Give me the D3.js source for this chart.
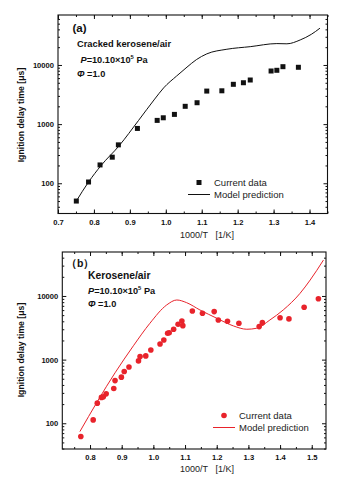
<!DOCTYPE html>
<html>
<head>
<meta charset="utf-8">
<script src="https://cdn.jsdelivr.net/npm/d3@7"></script>
<style>
  body { margin: 0; background: #fff; }
  svg { font-family: Arial, "Liberation Sans", sans-serif; }
  .tick text { font-weight: bold; font-size: 7.6px; fill: #111; }
  .tick line { stroke: #111; }
</style>
</head>
<body>
<div id="chart"></div>
<script>
// panel (a) - cracked kerosene/air
const aDataX = [0.751, 0.785, 0.817, 0.851, 0.868, 0.921, 0.976, 0.993, 1.024, 1.054, 1.087,
  1.114, 1.156, 1.188, 1.216, 1.235, 1.293, 1.309, 1.326, 1.369];
const aDataY = [50, 105, 204, 276, 446, 845, 1156, 1280, 1460, 2000, 2300,
  3620, 3660, 4710, 5010, 5570, 7910, 8130, 9360, 9140];
const aModelX = [0.751, 0.785, 0.82, 0.87, 0.924, 0.969, 0.994, 1.03, 1.059, 1.085, 1.114,
  1.17, 1.235, 1.309, 1.337, 1.374, 1.405, 1.429];
const aModelY = [50, 105, 200, 430, 1150, 2650, 4100, 6500, 9200, 12300, 15400,
  18450, 20400, 23000, 22800, 26500, 33000, 41900];

// panel (b) - kerosene/air
const bDataX = [0.771, 0.81, 0.823, 0.836, 0.842, 0.851, 0.875, 0.879, 0.899, 0.908, 0.923,
  0.953, 0.958, 0.976, 0.992, 1.021, 1.033, 1.045, 1.05, 1.064, 1.078, 1.09, 1.093,
  1.123, 1.155, 1.192, 1.205, 1.234, 1.27, 1.334, 1.344, 1.40, 1.428, 1.476, 1.521];
const bDataY = [62, 113, 207, 255, 260, 290, 351, 468, 530, 649, 767,
  955, 1115, 1143, 1420, 1763, 2036, 2594, 2650, 3000, 3594, 4050, 3420,
  5820, 5350, 5680, 4200, 4010, 3720, 3300, 3810, 4560, 4360, 6650, 9070];
const bModelX = [0.768, 0.879, 0.937, 0.989, 1.042, 1.074, 1.105, 1.147, 1.2, 1.253,
  1.295, 1.326, 1.368, 1.41, 1.463, 1.495, 1.537];
const bModelY = [74, 620, 1650, 3720, 7220, 8650, 7850, 6030, 4470, 3380,
  3000, 3110, 4200, 6030, 11000, 17800, 36700];

const xTicksA = [0.7, 0.8, 0.9, 1.0, 1.1, 1.2, 1.3, 1.4];
const xTicksB = [0.8, 0.9, 1.0, 1.1, 1.2, 1.3, 1.4, 1.5];
const yTicks = [100, 1000, 10000];

const W = 347, H = 482;
const svg = d3.select("#chart").append("svg").attr("width", W).attr("height", H);

function minorLog(domain) {
  const out = [];
  for (let e = 0; e < 6; e++) {
    for (let k = 2; k <= 9; k++) {
      const v = k * Math.pow(10, e);
      if (v > domain[0] && v < domain[1]) out.push(v);
    }
  }
  return out;
}

function drawPanel(cfg) {
  const x = d3.scaleLinear().domain(cfg.xDomain).range([cfg.left, cfg.right]);
  const y = d3.scaleLog().domain(cfg.yDomain).range([cfg.bottom, cfg.top]);
  const g = svg.append("g");

  const xMinor = d3.range(Math.ceil(cfg.xDomain[0] * 20), Math.floor(cfg.xDomain[1] * 20) + 1)
    .map(i => i / 20);

  // bottom axis, ticks point inward
  g.append("g").attr("transform", `translate(0,${cfg.bottom})`)
    .call(d3.axisBottom(x).tickValues(xMinor).tickSize(-2).tickFormat(""));
  g.append("g").attr("transform", `translate(0,${cfg.bottom})`)
    .call(d3.axisBottom(x).tickValues(cfg.xTicks).tickSize(-4).tickPadding(6)
      .tickFormat(d3.format(".1f")));
  // top axis
  g.append("g").attr("transform", `translate(0,${cfg.top})`)
    .call(d3.axisTop(x).tickValues(xMinor).tickSize(-2).tickFormat(""));
  g.append("g").attr("transform", `translate(0,${cfg.top})`)
    .call(d3.axisTop(x).tickValues(cfg.xTicks).tickSize(-4).tickFormat(""));
  // left axis
  g.append("g").attr("transform", `translate(${cfg.left},0)`)
    .call(d3.axisLeft(y).tickValues(minorLog(cfg.yDomain)).tickSize(-2).tickFormat(""));
  g.append("g").attr("transform", `translate(${cfg.left},0)`)
    .call(d3.axisLeft(y).tickValues(yTicks).tickSize(-4).tickPadding(4).tickFormat(d3.format("d")));
  // right axis
  g.append("g").attr("transform", `translate(${cfg.right},0)`)
    .call(d3.axisRight(y).tickValues(minorLog(cfg.yDomain)).tickSize(-2).tickFormat(""));
  g.append("g").attr("transform", `translate(${cfg.right},0)`)
    .call(d3.axisRight(y).tickValues(yTicks).tickSize(-4).tickFormat(""));

  g.selectAll(".domain").remove();
  g.append("rect")
    .attr("x", cfg.left).attr("y", cfg.top)
    .attr("width", cfg.right - cfg.left).attr("height", cfg.bottom - cfg.top)
    .attr("fill", "none").attr("stroke", "#111").attr("stroke-width", 1.1);

  // model line
  const line = d3.line().x(d => x(d[0])).y(d => y(d[1])).curve(d3.curveMonotoneX);
  g.append("path")
    .datum(cfg.modelX.map((v, i) => [v, cfg.modelY[i]]))
    .attr("d", line)
    .attr("fill", "none").attr("stroke", cfg.color).attr("stroke-width", 1);

  // data markers
  const pts = cfg.dataX.map((v, i) => [v, cfg.dataY[i]]);
  if (cfg.marker === "square") {
    g.selectAll(".pt").data(pts).join("path")
      .attr("transform", d => `translate(${x(d[0])},${y(d[1])})`)
      .attr("d", d3.symbol(d3.symbolSquare, 25))
      .attr("fill", cfg.color);
  } else {
    g.selectAll(".pt").data(pts).join("circle")
      .attr("cx", d => x(d[0])).attr("cy", d => y(d[1])).attr("r", 2.8)
      .attr("fill", cfg.color);
  }

  // axis titles
  g.append("text")
    .attr("transform", `translate(${cfg.yLabelX},${cfg.yLabelY}) rotate(-90)`)
    .attr("text-anchor", "middle").attr("font-weight", "bold").attr("font-size", 8.7)
    .attr("fill", "#111")
    .text("Ignition delay time [μs]");
  g.append("text")
    .attr("x", cfg.xLabelX).attr("y", cfg.xLabelY)
    .attr("text-anchor", "middle").attr("font-size", 9).attr("fill", "#222")
    .attr("xml:space", "preserve")
    .text("1000/T   [1/K]");

  // annotations
  const ann = g.append("g").attr("font-weight", "bold").attr("fill", "#111");
  ann.append("text").attr("x", cfg.tagX).attr("y", cfg.tagY).attr("font-size", cfg.tagSize).text(cfg.tag);
  ann.append("text").attr("x", cfg.annX).attr("y", cfg.annY[0]).attr("font-size", cfg.fuelSize).text(cfg.fuel);
  const p = ann.append("text").attr("x", cfg.annX + cfg.pDx).attr("y", cfg.annY[1]).attr("font-size", 9.2);
  p.append("tspan").attr("font-style", "italic").text("P");
  p.append("tspan").text("=10.10×10");
  p.append("tspan").attr("font-size", 5.8).attr("dy", -3.6).text("5");
  p.append("tspan").attr("dy", 3.6).text(" Pa");
  const f = ann.append("text").attr("x", cfg.annX + cfg.phiDx).attr("y", cfg.annY[2]).attr("font-size", 9.2);
  f.append("tspan").attr("font-style", "italic").text("Φ");
  f.append("tspan").text(" =1.0");

  // legend
  const lg = g.append("g").attr("font-size", 9.5).attr("fill", "#222");
  if (cfg.marker === "square") {
    lg.append("path").attr("transform", `translate(${cfg.legX + 11},${cfg.legY - 3})`)
      .attr("d", d3.symbol(d3.symbolSquare, 25)).attr("fill", cfg.color);
  } else {
    lg.append("circle").attr("cx", cfg.legX + 11).attr("cy", cfg.legY - 3).attr("r", 2.8)
      .attr("fill", cfg.color);
  }
  lg.append("line").attr("x1", cfg.legX).attr("x2", cfg.legX + 22)
    .attr("y1", cfg.legY + 9).attr("y2", cfg.legY + 9)
    .attr("stroke", cfg.color).attr("stroke-width", 1);
  lg.append("text").attr("x", cfg.legX + 26).attr("y", cfg.legY).text("Current data");
  lg.append("text").attr("x", cfg.legX + 26).attr("y", cfg.legY + 12).text("Model prediction");
}

drawPanel({
  left: 58, right: 327.5, top: 15, bottom: 213.5,
  xDomain: [0.7, 1.45], yDomain: [30.8, 70000], xTicks: xTicksA,
  dataX: aDataX, dataY: aDataY, modelX: aModelX, modelY: aModelY,
  color: "#111", marker: "square",
  yLabelX: 24, yLabelY: 115, xLabelX: 207, xLabelY: 238,
  tag: "(a)", tagX: 72.5, tagY: 32, tagSize: 11.5,
  fuel: "Cracked kerosene/air", fuelSize: 9.3,
  annX: 77, annY: [47, 63, 77], pDx: 3.5, phiDx: 0,
  legX: 188, legY: 185.5
});

drawPanel({
  left: 62.3, right: 326, top: 252, bottom: 449,
  xDomain: [0.7125, 1.545], yDomain: [39.4, 49100], xTicks: xTicksB,
  dataX: bDataX, dataY: bDataY, modelX: bModelX, modelY: bModelY,
  color: "#e8232b", marker: "circle",
  yLabelX: 24, yLabelY: 350, xLabelX: 207, xLabelY: 472,
  tag: "（b）", tagX: 66, tagY: 267, tagSize: 10.5,
  fuel: "Kerosene/air", fuelSize: 10.3,
  annX: 88, annY: [279, 294, 307], pDx: 0, phiDx: 0,
  legX: 213, legY: 418.5
});
</script>
</body>
</html>
